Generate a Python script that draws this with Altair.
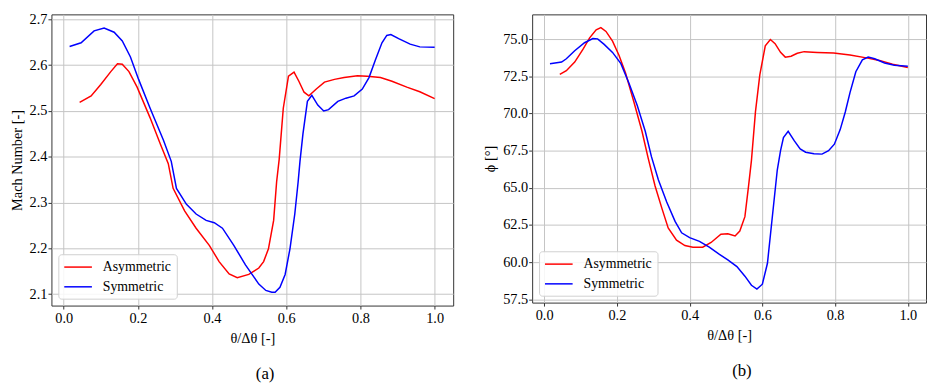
import altair as alt
import pandas as pd

# ---- data ----
series_names = ["Asymmetric", "Symmetric"]
series_colors = ["#ff0000", "#0000ff"]

# (a) Mach number
mach_asym_x = [0.043, 0.074, 0.100, 0.127, 0.145, 0.158, 0.176, 0.198, 0.233, 0.260, 0.282,
               0.295, 0.326, 0.357, 0.393, 0.419, 0.446, 0.468, 0.499, 0.526, 0.539, 0.552,
               0.566, 0.574, 0.581, 0.592, 0.606, 0.621, 0.634, 0.648, 0.661, 0.681, 0.703,
               0.730, 0.756, 0.792, 0.818, 0.854, 0.885, 0.925, 0.960, 1.000]
mach_asym_y = [2.519, 2.533, 2.558, 2.586, 2.603, 2.602, 2.586, 2.552, 2.485, 2.429, 2.385,
               2.331, 2.282, 2.244, 2.206, 2.171, 2.144, 2.136, 2.143, 2.157, 2.171, 2.199,
               2.261, 2.345, 2.395, 2.506, 2.576, 2.585, 2.565, 2.541, 2.533, 2.548, 2.563,
               2.569, 2.573, 2.577, 2.576, 2.573, 2.565, 2.552, 2.542, 2.527]
mach_sym_x = [0.016, 0.047, 0.082, 0.109, 0.136, 0.158, 0.180, 0.202, 0.233, 0.269, 0.290,
              0.304, 0.331, 0.357, 0.384, 0.406, 0.428, 0.459, 0.490, 0.526, 0.545, 0.561,
              0.570, 0.583, 0.597, 0.610, 0.623, 0.632, 0.637, 0.645, 0.657, 0.669, 0.685,
              0.701, 0.714, 0.739, 0.761, 0.783, 0.805, 0.823, 0.840, 0.858, 0.871, 0.882,
              0.903, 0.934, 0.960, 1.000]
mach_sym_y = [2.641, 2.649, 2.675, 2.681, 2.672, 2.653, 2.618, 2.569, 2.506, 2.436, 2.390,
              2.331, 2.296, 2.275, 2.261, 2.256, 2.244, 2.206, 2.164, 2.122, 2.108, 2.104,
              2.104, 2.115, 2.143, 2.199, 2.275, 2.345, 2.390, 2.450, 2.521, 2.534, 2.513,
              2.500, 2.503, 2.521, 2.528, 2.533, 2.548, 2.573, 2.611, 2.649, 2.665, 2.667,
              2.658, 2.646, 2.640, 2.639]

# (b) flow angle phi
phi_asym_x = [0.043, 0.061, 0.084, 0.107, 0.125, 0.143, 0.156, 0.170, 0.188, 0.206, 0.224,
              0.247, 0.269, 0.286, 0.305, 0.324, 0.341, 0.364, 0.387, 0.409, 0.436, 0.459,
              0.486, 0.505, 0.525, 0.538, 0.552, 0.562, 0.570, 0.581, 0.593, 0.608, 0.622,
              0.635, 0.650, 0.663, 0.679, 0.696, 0.715, 0.751, 0.796, 0.841, 0.886, 0.922,
              0.958, 1.000]
phi_asym_y = [72.64, 72.89, 73.47, 74.34, 75.10, 75.64, 75.79, 75.53, 74.88, 73.91, 72.71,
              70.76, 68.81, 67.00, 65.12, 63.60, 62.30, 61.48, 61.11, 61.00, 61.00, 61.32,
              61.87, 61.91, 61.76, 62.09, 63.06, 65.12, 66.85, 70.11, 72.60, 74.56, 74.99,
              74.71, 74.12, 73.80, 73.86, 74.06, 74.17, 74.12, 74.08, 73.95, 73.75, 73.58,
              73.32, 73.10]
phi_sym_x = [0.016, 0.048, 0.061, 0.084, 0.111, 0.134, 0.147, 0.165, 0.188, 0.211, 0.233,
             0.256, 0.278, 0.295, 0.314, 0.337, 0.360, 0.378, 0.400, 0.427, 0.454, 0.482,
             0.505, 0.530, 0.552, 0.570, 0.585, 0.600, 0.614, 0.627, 0.641, 0.650, 0.658,
             0.671, 0.688, 0.704, 0.719, 0.742, 0.764, 0.782, 0.798, 0.814, 0.828, 0.841,
             0.857, 0.875, 0.891, 0.909, 0.936, 0.963, 1.000]
phi_sym_y = [73.36, 73.47, 73.69, 74.23, 74.77, 75.05, 75.03, 74.66, 74.12, 73.36, 72.06,
             70.54, 68.81, 67.10, 65.55, 64.04, 62.74, 61.97, 61.65, 61.39, 61.00, 60.52,
             60.15, 59.70, 59.05, 58.44, 58.18, 58.51, 59.92, 62.95, 66.20, 67.50, 68.38,
             68.81, 68.16, 67.62, 67.40, 67.29, 67.27, 67.50, 67.94, 68.92, 70.11, 71.41,
             72.82, 73.62, 73.80, 73.69, 73.41, 73.26, 73.19]

x_ticks = [0.0, 0.2, 0.4, 0.6, 0.8, 1.0]
mach_ticks = [2.1, 2.2, 2.3, 2.4, 2.5, 2.6, 2.7]
phi_ticks = [57.5, 60.0, 62.5, 65.0, 67.5, 70.0, 72.5, 75.0]

FONT = "Liberation Serif"


def frame(xa, ya, xs, ys):
    rows = []
    for i, (x, y) in enumerate(zip(xa, ya)):
        rows.append({"x": x, "y": y, "series": series_names[0], "order": i})
    for i, (x, y) in enumerate(zip(xs, ys)):
        rows.append({"x": x, "y": y, "series": series_names[1], "order": i})
    return pd.DataFrame(rows)


def panel(df, ytitle, ydomain, yticks, caption, width, height):
    return alt.Chart(df).mark_line(strokeWidth=1.5).encode(
        x=alt.X("x:Q",
                scale=alt.Scale(domain=[-0.033, 1.05], nice=False, zero=False),
                axis=alt.Axis(values=x_ticks, format=".1f", title="θ/Δθ [-]")),
        y=alt.Y("y:Q",
                scale=alt.Scale(domain=ydomain, nice=False, zero=False),
                axis=alt.Axis(values=yticks, format=".1f", title=ytitle)),
        color=alt.Color("series:N",
                        scale=alt.Scale(domain=series_names, range=series_colors),
                        legend=alt.Legend(title=None, orient="bottom-left", offset=7,
                                          symbolType="M-2,0L2,0", symbolSize=196,
                                          symbolOffset=7,
                                          symbolStrokeWidth=1.5, labelOffset=17,
                                          labelFont=FONT, labelFontSize=14,
                                          labelColor="#000000",
                                          fillColor="rgba(255,255,255,0.85)",
                                          strokeColor="#d0d0d0", cornerRadius=3,
                                          padding=5, rowPadding=5)),
        order="order:Q",
    ).properties(
        width=width, height=height,
        title=alt.TitleParams(caption, orient="bottom", anchor="middle", offset=22,
                              dx=13, fontSize=17, font=FONT, fontWeight="normal",
                              color="#000000"),
    )


left = panel(frame(mach_asym_x, mach_asym_y, mach_sym_x, mach_sym_y),
             "Mach Number [-]", [2.075, 2.711], mach_ticks, "(a)", 407, 295)
right = panel(frame(phi_asym_x, phi_asym_y, phi_sym_x, phi_sym_y),
              "ϕ [°]", [57.27, 76.68], phi_ticks, "(b)", 399, 292)

chart = alt.hconcat(left, right, spacing=28).resolve_scale(
    color="independent").resolve_legend(color="independent").configure(
    padding={"left": 0, "top": 0, "right": 0, "bottom": 0},
    background="white",
).configure_view(
    stroke="#333333", strokeWidth=1,
).configure_axis(
    labelFont=FONT, titleFont=FONT, labelFontSize=14.5, titleFontSize=14.5,
    labelColor="#000000", titleColor="#000000", titleFontWeight="normal",
    grid=True, gridColor="#c4c4c4", gridWidth=1,
    domain=False, ticks=True, tickColor="#333333", tickSize=3.5, labelPadding=1,
).configure_axisX(
    titlePadding=6, labelPadding=3,
).configure_axisY(
    titlePadding=5,
)

chart.save("out.html", embed_options={"renderer": "svg", "actions": False})
